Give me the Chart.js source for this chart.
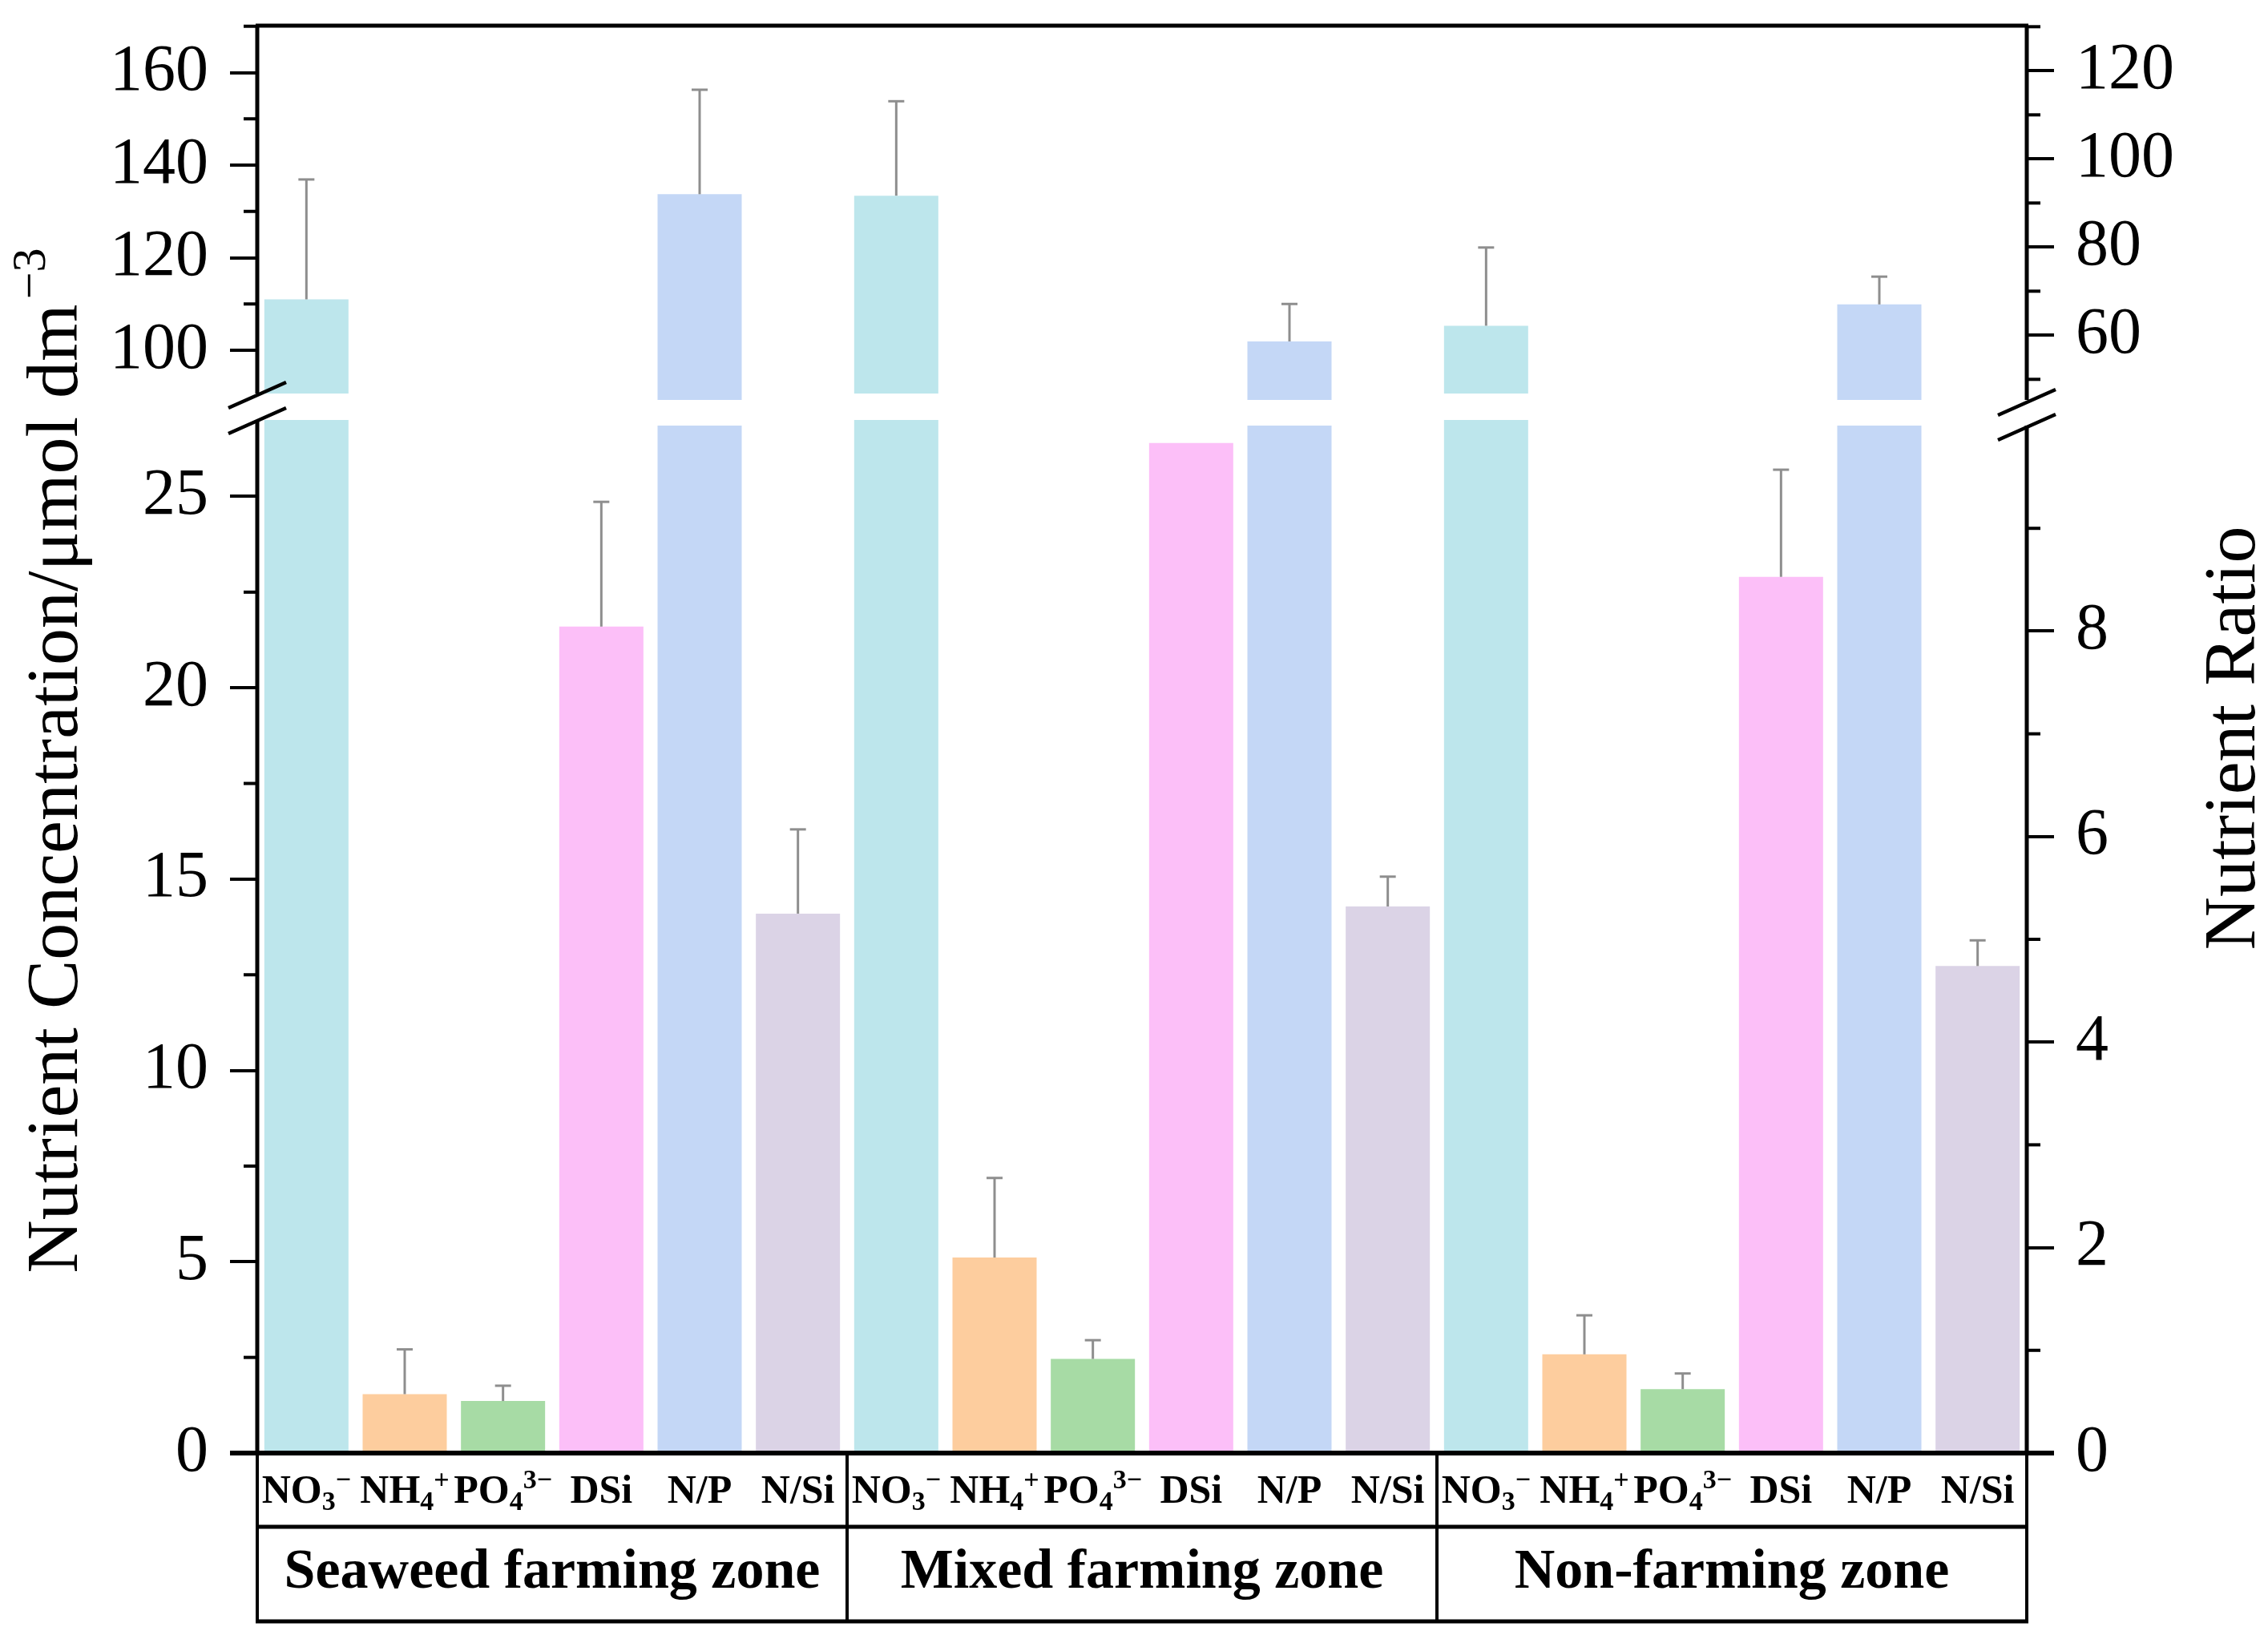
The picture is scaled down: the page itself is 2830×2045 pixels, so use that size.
<!DOCTYPE html>
<html>
<head>
<meta charset="utf-8">
<script src="https://cdn.jsdelivr.net/npm/chart.js@4.4.1/dist/chart.umd.min.js"></script>
<style>
html, body { margin: 0; padding: 0; background: #fff; }
#wrap { width: 2830px; height: 2045px; }
</style>
</head>
<body>
<div id="wrap"><canvas id="nutrient-chart"></canvas></div>
<script>
// values: NO3-, NH4+, PO4 3-, DSi (umol/dm3), then N/P and N/Si ratios
var zones = ["Seaweed farming zone", "Mixed farming zone", "Non-farming zone"];
var nutrients = ["NO3-", "NH4+", "PO4 3-", "DSi", "N/P", "N/Si"];
var seaweedMean = [111.0, 1.54, 1.36, 21.6, 92.0, 5.25];
var seaweedErr  = [25.9, 1.17, 0.40, 3.26, 23.7, 0.82];
var mixedMean   = [133.4, 5.11, 2.46, 26.4, 58.6, 5.32];
var mixedErr    = [20.4, 2.08, 0.49, null, 8.5, 0.29];
var nonfarmMean = [105.3, 2.58, 1.67, 22.9, 67.0, 4.74];
var nonfarmErr  = [16.9, 1.02, 0.41, 2.8, 6.3, 0.25];
var colors = ["#bde6ec", "#fdcd9e", "#a7dba5", "#fcbff8", "#c4d7f6", "#dbd3e6"];

// tick labels of the two broken axes
var leftLowTicks = [0, 5, 10, 15, 20, 25];
var leftLowMinor = [2.5, 7.5, 12.5, 17.5, 22.5];
var leftHighTicks = [100, 120, 140, 160];
var leftHighMinor = [110, 130, 150, 170];
var rightLowTicks = [0, 2, 4, 6, 8];
var rightLowMinor = [1, 3, 5, 7, 9];
var rightHighTicks = [60, 80, 100, 120];
var rightHighMinor = [50, 70, 90, 110, 130];

// category labels with sub/superscripts (0 normal, 1 sub, 2 sup)
var labelParts = [
  [["NO", 0], ["3", 1], ["\u2212", 2]],
  [["NH", 0], ["4", 1], ["+", 2]],
  [["PO", 0], ["4", 1], ["3\u2212", 2]],
  [["DSi", 0]],
  [["N/P", 0]],
  [["N/Si", 0]]
];

// where the axes are broken
var leftLowMax = 27, leftHighMin = 84.94, leftHighMax = 170.13, leftHighBase = 90.65;
var rightLowMax = 10, rightHighMin = 39.51, rightHighMax = 130.24, rightHighBase = 45.33;

var labels = [], allMean = [], allErr = [], barColors = [];
[seaweedMean, mixedMean, nonfarmMean].forEach(function (m, z) {
  m.forEach(function (v, k) {
    labels.push(zones[z] + " " + nutrients[k]);
    allMean.push(v);
    barColors.push(colors[k]);
  });
});
[seaweedErr, mixedErr, nonfarmErr].forEach(function (e) {
  e.forEach(function (v) { allErr.push(v); });
});
function isRatio(i) { return i % 6 >= 4; }

var serif = '"Liberation Serif", "Times New Roman", serif';

function tickScale(pos, stack, weight, order, min, max, values) {
  return {
    type: 'linear', position: pos, stack: stack, stackWeight: weight, weight: order,
    min: min, max: max, bounds: 'data',
    border: { display: false },
    grid: { drawOnChartArea: false, drawTicks: true, tickLength: 34, lineWidth: 4, color: '#000' },
    ticks: { font: { family: serif, size: 82 }, color: '#000', padding: 27, autoSkip: false,
      callback: function (v) { return String(v); } },
    afterBuildTicks: function (s) { s.ticks = values.map(function (v) { return { value: v }; }); },
    afterFit: function (s) {
      s.width = pos === 'left' ? 321 : 301;
      s.paddingTop = 0; s.paddingBottom = 0;
    }
  };
}

function line(ctx, x1, y1, x2, y2) {
  ctx.beginPath(); ctx.moveTo(x1, y1); ctx.lineTo(x2, y2); ctx.stroke();
}

var brokenAxes = {
  id: 'brokenAxes',
  afterDatasetsDraw: function (chart) {
    var ctx = chart.ctx, x = chart.scales.x, sc = chart.scales;
    ctx.save();
    ctx.strokeStyle = '#8e8e8e';
    ctx.lineWidth = 3;
    allMean.forEach(function (v, i) {
      var e = allErr[i];
      if (e == null) return;
      var s = isRatio(i) ? (v <= rightLowMax ? sc.yR1 : sc.yR2) : (v <= leftLowMax ? sc.yL1 : sc.yL2);
      var px = x.getPixelForValue(i);
      var y0 = s.getPixelForValue(v), y1 = s.getPixelForValue(v + e);
      line(ctx, px, y0, px, y1);
      line(ctx, px - 10, y1, px + 10, y1);
    });
    ctx.restore();
  },
  afterDraw: function (chart) {
    var ctx = chart.ctx, a = chart.chartArea, sc = chart.scales, x = sc.x;
    var L = a.left, R = a.right, T = a.top, B = a.bottom;
    ctx.save();
    ctx.strokeStyle = '#000';
    ctx.fillStyle = '#000';
    ctx.lineCap = 'butt';

    // frame and broken axis lines
    var lBreakTop = sc.yL2.getPixelForValue(leftHighBase), lBreakBot = sc.yL1.getPixelForValue(leftLowMax);
    var rBreakTop = sc.yR2.getPixelForValue(rightHighBase), rBreakBot = sc.yR1.getPixelForValue(rightLowMax);
    ctx.lineWidth = 5;
    line(ctx, L - 2, T, R + 2, T);
    line(ctx, L, T, L, lBreakTop);
    line(ctx, L, lBreakBot, L, B);
    line(ctx, R, T, R, rBreakTop);
    line(ctx, R, rBreakBot, R, B);
    ctx.lineWidth = 6;
    line(ctx, L - 34, B, R + 34, B);

    // break marks
    ctx.lineWidth = 4.5;
    [[L, lBreakTop + 2], [L, lBreakBot + 1], [R, rBreakTop + 3], [R, rBreakBot + 2]].forEach(function (p) {
      line(ctx, p[0] - 36, p[1] + 16, p[0] + 36, p[1] - 16);
    });

    // minor ticks
    ctx.lineWidth = 4;
    [[sc.yL1, leftLowMinor, -1], [sc.yL2, leftHighMinor, -1],
     [sc.yR1, rightLowMinor, 1], [sc.yR2, rightHighMinor, 1]].forEach(function (m) {
      var ax = m[2] < 0 ? L : R;
      m[1].forEach(function (v) {
        var y = m[0].getPixelForValue(v);
        line(ctx, ax, y, ax + m[2] * 17, y);
      });
    });

    // category table under the axis
    var row1 = B + 92, row2 = B + 210;
    ctx.lineWidth = 5;
    line(ctx, L - 2, row1, R + 2, row1);
    line(ctx, L - 2, row2, R + 2, row2);
    ctx.lineWidth = 4;
    line(ctx, L, B, L, row2);
    line(ctx, R, B, R, row2);
    [5.5, 11.5].forEach(function (v) {
      var px = x.getPixelForValue(v);
      line(ctx, px, B, px, row2);
    });

    ctx.textBaseline = 'alphabetic';
    ctx.textAlign = 'left';
    var base = 'bold 50px ' + serif, small = 'bold 34px ' + serif;
    labels.forEach(function (lab, i) {
      var parts = labelParts[i % 6];
      var w = 0;
      parts.forEach(function (p) { ctx.font = p[1] ? small : base; w += ctx.measureText(p[0]).width; });
      var cx = x.getPixelForValue(i) - w / 2, by = B + 62;
      parts.forEach(function (p) {
        ctx.font = p[1] ? small : base;
        var dy = p[1] === 1 ? 9 : (p[1] === 2 ? -18 : 0);
        ctx.fillText(p[0], cx, by + dy);
        cx += ctx.measureText(p[0]).width;
      });
    });
    ctx.textAlign = 'center';
    ctx.font = 'bold 70px ' + serif;
    zones.forEach(function (z, k) {
      ctx.fillText(z, x.getPixelForValue(k * 6 + 2.5), B + 168);
    });

    // axis titles
    ctx.save();
    ctx.translate(96, 984);
    ctx.rotate(-Math.PI / 2);
    ctx.textAlign = 'left';
    ctx.font = '92px ' + serif;
    var t = 'Nutrient Concentration/\u03bcmol dm';
    var tw = ctx.measureText(t).width;
    ctx.fillText(t, -tw / 2, 0);
    ctx.font = '60px ' + serif;
    ctx.fillText('\u22123', tw / 2 + 6, -40);
    ctx.restore();

    ctx.save();
    ctx.translate(2813, 921);
    ctx.rotate(-Math.PI / 2);
    ctx.textAlign = 'center';
    ctx.font = '92px ' + serif;
    ctx.fillText('Nutrient Ratio', 0, 0);
    ctx.restore();

    ctx.restore();
  }
};

new Chart(document.getElementById('nutrient-chart'), {
  type: 'bar',
  data: {
    labels: labels,
    datasets: [
      { yAxisID: 'yL1', backgroundColor: barColors,
        data: allMean.map(function (v, i) { return isRatio(i) ? null : Math.min(v, leftLowMax); }) },
      { yAxisID: 'yL2', backgroundColor: barColors,
        data: allMean.map(function (v, i) { return !isRatio(i) && v > leftHighBase ? [leftHighBase, v] : null; }) },
      { yAxisID: 'yR1', backgroundColor: barColors,
        data: allMean.map(function (v, i) { return isRatio(i) ? Math.min(v, rightLowMax) : null; }) },
      { yAxisID: 'yR2', backgroundColor: barColors,
        data: allMean.map(function (v, i) { return isRatio(i) && v > rightHighBase ? [rightHighBase, v] : null; }) }
    ]
  },
  options: {
    responsive: true,
    maintainAspectRatio: false,
    devicePixelRatio: 1,
    animation: false,
    layout: { padding: { top: 32, bottom: 232, left: 0, right: 0 } },
    datasets: { bar: { grouped: false, categoryPercentage: 1, barPercentage: 0.856, borderWidth: 0 } },
    plugins: { legend: { display: false }, tooltip: { enabled: false } },
    scales: {
      x: { type: 'category', display: false },
      yL1: tickScale('left', 'left', 1289, 1, 0, leftLowMax, leftLowTicks),
      yL2: tickScale('left', 'left', 492, 2, leftHighMin, leftHighMax, leftHighTicks),
      yR2: tickScale('right', 'right', 499, 1, rightHighMin, rightHighMax, rightHighTicks),
      yR1: tickScale('right', 'right', 1282, 2, 0, rightLowMax, rightLowTicks)
    }
  },
  plugins: [brokenAxes]
});
</script>
</body>
</html>
